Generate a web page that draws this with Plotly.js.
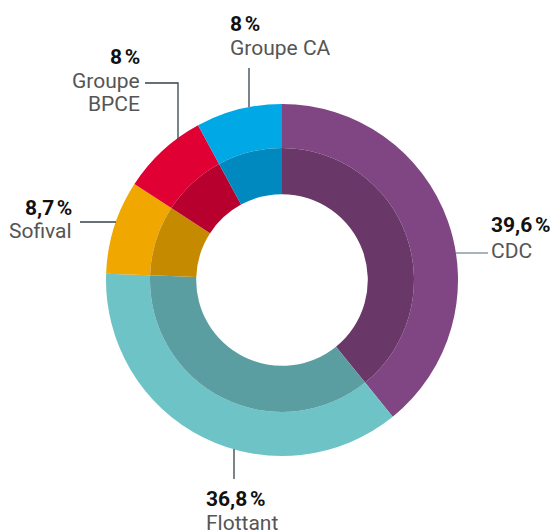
<!DOCTYPE html>
<html>
<head>
<meta charset="utf-8">
<script src="https://cdn.plot.ly/plotly-3.0.1.min.js"></script>
<style>html,body{margin:0;padding:0;background:#fff;}#chart{width:556px;height:531px;}</style>
</head>
<body>
<div id="chart"></div>
<script>
// Data
const categories = ["CDC", "Flottant", "Sofival", "Groupe BPCE", "Groupe CA"];
const shares = [39.6, 36.8, 8.7, 8, 8];
const shareLabels = ["39,6\u202f%", "36,8\u202f%", "8,7\u202f%", "8\u202f%", "8\u202f%"];
const nameLines = [["CDC"], ["Flottant"], ["Sofival"], ["Groupe", "BPCE"], ["Groupe CA"]];
const outerColors = ["#804683", "#6dc3c5", "#f0a800", "#e00034", "#00a9e6"];
const innerColors = ["#693869", "#5a9ea1", "#c68a00", "#b8002f", "#0089bf"];

const W = 556, H = 531;
const px = x => x / W;
const py = y => 1 - y / H;

const traceOuter = {
  type: "pie", values: shares, labels: categories, sort: false,
  direction: "clockwise", rotation: 0, hole: 0.75,
  marker: {colors: outerColors, line: {width: 0}},
  textinfo: "none", hoverinfo: "label+value", showlegend: false,
  domain: {x: [px(106), px(458)], y: [py(456), py(104)]}
};
const traceInner = {
  type: "pie", values: shares, labels: categories, sort: false,
  direction: "clockwise", rotation: 0, hole: 0.65,
  marker: {colors: innerColors, line: {width: 0}},
  textinfo: "none", hoverinfo: "label+value", showlegend: false,
  domain: {x: [px(150), px(414)], y: [py(412), py(148)]}
};

// label placement (layout only): anchor x, cap-centre y of each line
const place = [
  {x: 489, xa: "left", ys: [223.5, 250]},
  {x: 204, xa: "left", ys: [497.5, 522]},
  {x: 74, xa: "right", ys: [207, 230]},
  {x: 142, xa: "right", ys: [55.5, 79.5, 102.5]},
  {x: 228, xa: "left", ys: [22.5, 47.5]}
];
const annotations = [];
categories.forEach((c, i) => {
  const lines = [shareLabels[i]].concat(nameLines[i]);
  lines.forEach((t, k) => {
    annotations.push({
      xref: "paper", yref: "paper",
      x: px(place[i].x), y: py(place[i].ys[k] + 1),
      xanchor: place[i].xa, yanchor: "middle",
      showarrow: false,
      text: k === 0 ? "<b>" + t + "</b>" : t,
      font: {family: "Roboto, sans-serif", size: 21, color: k === 0 ? "#111" : "#555"}
    });
  });
});

const lineStyle = {color: "#34424d", width: 1.3};
const pathPx = pts => pts.map((p, k) => (k ? "L" : "M") + px(p[0]) + "," + py(p[1])).join(" ");
const shapes = [
  {type: "path", xref: "paper", yref: "paper", path: pathPx([[456, 253], [488, 253]]), line: {color: "#7b8a90", width: 1.3}},
  {type: "path", xref: "paper", yref: "paper", path: pathPx([[234, 449], [234, 479]]), line: lineStyle},
  {type: "path", xref: "paper", yref: "paper", path: pathPx([[80, 222], [116, 222]]), line: lineStyle},
  {type: "path", xref: "paper", yref: "paper", path: pathPx([[145, 83], [178, 83], [178, 139]]), line: lineStyle},
  {type: "path", xref: "paper", yref: "paper", path: pathPx([[249, 68], [249, 107]]), line: lineStyle}
];

const layout = {
  width: W, height: H,
  margin: {l: 0, r: 0, t: 0, b: 0},
  paper_bgcolor: "#fff", plot_bgcolor: "#fff",
  showlegend: false,
  annotations: annotations,
  shapes: shapes,
  font: {family: "Roboto, sans-serif"}
};
Plotly.newPlot("chart", [traceOuter, traceInner], layout, {displayModeBar: false, staticPlot: true});
</script>
</body>
</html>
